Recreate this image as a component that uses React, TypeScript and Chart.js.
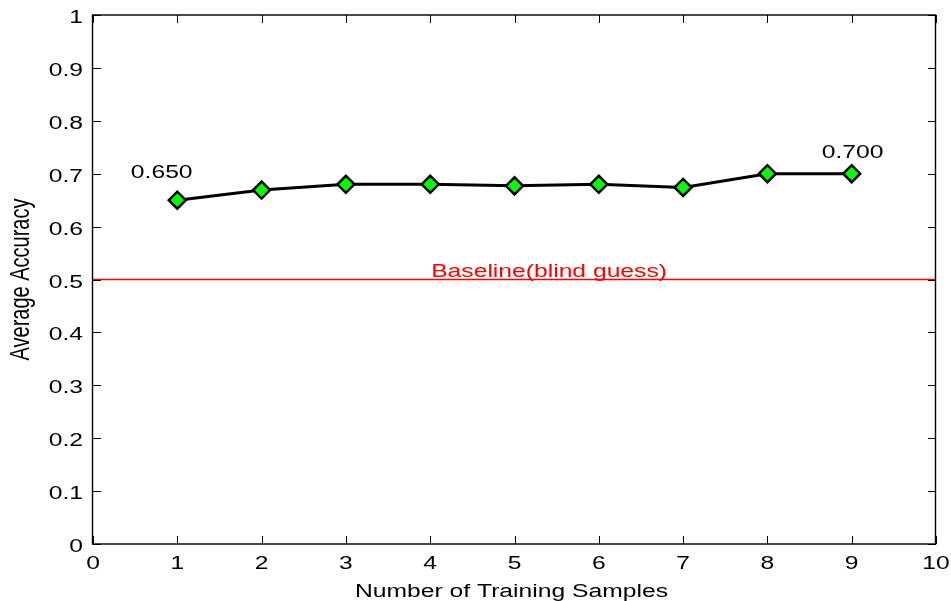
import React, { useEffect, useRef } from "react";
import { Chart, registerables } from "chart.js";

Chart.register(...registerables);

const samples = [1, 2, 3, 4, 5, 6, 7, 8, 9];
const accuracy = [0.65, 0.669, 0.68, 0.68, 0.677, 0.68, 0.674, 0.7, 0.7];
const baselineX = [0, 10];
const baselineY = [0.5, 0.5];
const xTickLabels = ["0", "1", "2", "3", "4", "5", "6", "7", "8", "9", "10"];
const yTickLabels = ["0", "0.1", "0.2", "0.3", "0.4", "0.5", "0.6", "0.7", "0.8", "0.9", "1"];
const xTitle = "Number of Training Samples";
const yTitle = "Average Accuracy";
// text annotations: text, x (data), y (data, text baseline), colour
const annotationTexts = ["0.650", "0.700", "Baseline(blind guess)"];
const annotationX = [0.815, 9.01, 5.41];
const annotationY = [0.691, 0.729, 0.505];
const annotationColors = ["#000000", "#000000", "#ff0000"];

const FONT = '"Liberation Sans", Arial, sans-serif';
const SX = 1.37;

function stretchedText(
  ctx: CanvasRenderingContext2D,
  text: string,
  x: number,
  y: number,
  align: CanvasTextAlign,
  size: number,
  color: string,
  rotate = false
) {
  ctx.save();
  ctx.translate(x, y);
  ctx.scale(SX, 1);
  if (rotate) ctx.rotate(-Math.PI / 2);
  ctx.font = `${size}px ${FONT}`;
  ctx.fillStyle = color;
  ctx.textAlign = align;
  ctx.textBaseline = "alphabetic";
  ctx.fillText(text, 0, 0);
  ctx.restore();
}

const matlabAxes = {
  id: "matlabAxes",
  afterDraw(chart: any) {
    const ctx: CanvasRenderingContext2D = chart.ctx;
    const { left, right, top, bottom } = chart.chartArea;
    const xs = chart.scales.x;
    const ys = chart.scales.y;
    const tl = 8;
    ctx.save();
    ctx.strokeStyle = "#000";
    ctx.lineWidth = 1;
    ctx.beginPath();
    xTickLabels.forEach((l) => {
      const px = Math.round(xs.getPixelForValue(Number(l))) + 0.5;
      ctx.moveTo(px, bottom);
      ctx.lineTo(px, bottom - tl);
      ctx.moveTo(px, top);
      ctx.lineTo(px, top + tl);
    });
    yTickLabels.forEach((l) => {
      const py = Math.round(ys.getPixelForValue(Number(l))) + 0.5;
      ctx.moveTo(left, py);
      ctx.lineTo(left + tl, py);
      ctx.moveTo(right, py);
      ctx.lineTo(right - tl, py);
    });
    ctx.stroke();
    ctx.lineWidth = 1.4;
    ctx.strokeRect(left - 0.5, top, right - left, bottom - top);
    ctx.restore();

    xTickLabels.forEach((l) => {
      const px = xs.getPixelForValue(Number(l));
      stretchedText(ctx, l, px, bottom + 25, "center", 18, "#000");
    });
    yTickLabels.forEach((l) => {
      const py = ys.getPixelForValue(Number(l));
      stretchedText(ctx, l, left - 10, py + 8, "right", 18, "#000");
    });
    stretchedText(ctx, xTitle, (left + right) / 2 - 3, 597, "center", 18, "#000");
    stretchedText(ctx, yTitle, 29, (top + bottom) / 2, "center", 20, "#000", true);
    annotationTexts.forEach((t, i) => {
      stretchedText(
        ctx,
        t,
        xs.getPixelForValue(annotationX[i]),
        ys.getPixelForValue(annotationY[i]),
        "center",
        18,
        annotationColors[i]
      );
    });
  },
};

export default function App() {
  const ref = useRef<HTMLCanvasElement | null>(null);
  useEffect(() => {
    if (!ref.current) return;
    const chart = new Chart(ref.current, {
      type: "line",
      data: {
        datasets: [
          {
            label: "baseline",
            data: baselineX.map((x, i) => ({ x, y: baselineY[i] })),
            borderColor: "rgba(255,0,0,1)",
            backgroundColor: "rgba(255,0,0,1)",
            borderWidth: 1.5,
            pointRadius: 0,
            fill: false,
            order: 2,
          },
          {
            label: "accuracy",
            data: samples.map((x, i) => ({ x, y: accuracy[i] })),
            borderColor: "#000000",
            backgroundColor: "#00ff00",
            borderWidth: 3,
            pointStyle: "rectRot",
            pointRadius: 8.5,
            pointBorderWidth: 2.5,
            pointBackgroundColor: "#00ff00",
            pointBorderColor: "#000000",
            tension: 0,
            fill: false,
            order: 1,
          },
        ],
      },
      options: {
        animation: false,
        responsive: false,
        layout: { padding: { left: 0, right: 15, top: 15, bottom: 0 } },
        plugins: { legend: { display: false }, tooltip: { enabled: false } },
        scales: {
          x: {
            type: "linear",
            min: 0,
            max: 10,
            ticks: { display: false, stepSize: 1 },
            grid: { display: false },
            border: { display: false },
            afterFit: (s: any) => {
              s.height = 57;
            },
          },
          y: {
            type: "linear",
            min: 0,
            max: 1,
            ticks: { display: false, stepSize: 0.1 },
            grid: { display: false },
            border: { display: false },
            afterFit: (s: any) => {
              s.width = 93;
            },
          },
        },
      },
      plugins: [matlabAxes],
    });
    return () => chart.destroy();
  }, []);
  return (
    <div style={{ position: "absolute", left: 0, top: 0, width: 951, height: 601, background: "#fff" }}>
      <canvas ref={ref} width={951} height={601} style={{ display: "block" }} />
    </div>
  );
}
